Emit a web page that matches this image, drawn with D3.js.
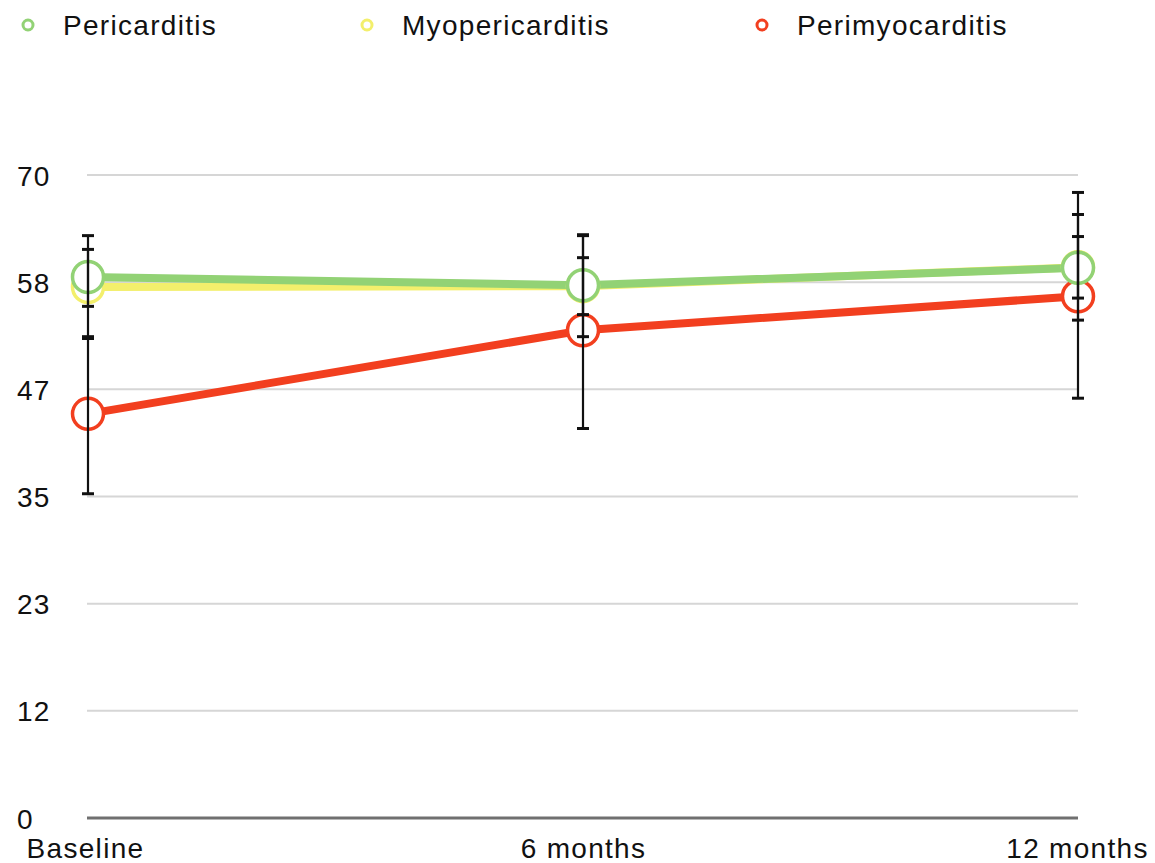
<!DOCTYPE html>
<html>
<head>
<meta charset="utf-8">
<script src="https://cdn.jsdelivr.net/npm/d3@7"></script>
<style>
  html, body { margin: 0; padding: 0; background: #fff; }
  svg { display: block; font-family: "Liberation Sans", Arial, Helvetica, sans-serif; }
</style>
</head>
<body>
<svg id="chart" width="1155" height="863"></svg>
<script>
// ---- data ----
const categories = ["Baseline", "6 months", "12 months"];
const yTicks = [0, 12, 23, 35, 47, 58, 70];
const seriesNames = ["Pericarditis", "Myopericarditis", "Perimyocarditis"];
const seriesColors = ["#92d275", "#f3ef6c", "#f23f1f"];

const pericarditis     = [58.9, 58.0, 59.9];
const myopericarditis  = [57.8, 57.9, 59.95];
const perimyocarditis  = [44.0, 53.1, 56.8];

const pericarditisLow     = [55.7, 54.8, 56.6];
const pericarditisHigh    = [61.9, 61.0, 63.3];
const myopericarditisLow  = [52.2, 52.4, 54.2];
const myopericarditisHigh = [63.4, 63.4, 65.7];
const perimyocarditisLow  = [35.3, 42.4, 45.7];
const perimyocarditisHigh = [52.4, 63.5, 68.1];

const series = [
  { name: seriesNames[0], color: seriesColors[0], values: pericarditis, low: pericarditisLow, high: pericarditisHigh },
  { name: seriesNames[1], color: seriesColors[1], values: myopericarditis, low: myopericarditisLow, high: myopericarditisHigh },
  { name: seriesNames[2], color: seriesColors[2], values: perimyocarditis, low: perimyocarditisLow, high: perimyocarditisHigh }
];

// ---- layout ----
const svg = d3.select("#chart");
const plotLeft = 88, plotRight = 1078, plotTop = 175, plotBottom = 818;
const FONT = 28, LS = 1.3;

const x = d3.scalePoint().domain(categories).range([plotLeft, plotRight]);
const y = d3.scaleLinear().domain([0, 70]).range([plotBottom, plotTop]);

function tickPos(t) { return yTicks.indexOf(t) * 70 / 6; }

// gridlines
svg.append("g").selectAll("line")
  .data(yTicks.filter(t => t !== 0))
  .join("line")
  .attr("x1", plotLeft - 1).attr("x2", plotRight)
  .attr("y1", d => y(tickPos(d))).attr("y2", d => y(tickPos(d)))
  .attr("stroke", "#d6d6d6").attr("stroke-width", 2);

// baseline axis
svg.append("line")
  .attr("x1", plotLeft - 1).attr("x2", plotRight)
  .attr("y1", y(0)).attr("y2", y(0))
  .attr("stroke", "#707070").attr("stroke-width", 3);

// y tick labels
const yAxis = d3.axisLeft(y).tickValues(yTicks.map(tickPos)).tickFormat((d, i) => yTicks[i]).tickSize(0);
const yg = svg.append("g").attr("transform", "translate(17,0)").call(yAxis);
yg.select(".domain").remove();
yg.selectAll("text")
  .attr("x", 0).attr("text-anchor", "start").attr("dy", "0.36em")
  .attr("font-size", FONT).attr("fill", "#111")
  .style("letter-spacing", LS + "px")
  .style("font-family", "'Liberation Sans', Arial, sans-serif");

// x labels
const xAxis = d3.axisBottom(x).tickSize(0);
const xg = svg.append("g").attr("transform", `translate(0,${plotBottom + 17})`).call(xAxis);
xg.select(".domain").remove();
xg.selectAll("text")
  .attr("font-size", FONT).attr("fill", "#111").attr("dy", "0.71em")
  .style("letter-spacing", LS + "px")
  .style("font-family", "'Liberation Sans', Arial, sans-serif");
xg.selectAll(".tick").filter(d => d === "Baseline").select("text").attr("dx", -3);
xg.selectAll(".tick").filter(d => d === "12 months").select("text").attr("dx", -1);

// lines + markers (reverse order so Pericarditis is on top)
const line = d3.line().x((d, i) => x(categories[i])).y(d => y(d));
const drawOrder = series.slice().reverse();
drawOrder.forEach(s => {
  svg.append("path")
    .datum(s.values)
    .attr("d", line)
    .attr("fill", "none")
    .attr("stroke", s.color)
    .attr("stroke-width", 8);
});
drawOrder.forEach(s => {
  svg.append("g").selectAll("circle")
    .data(s.values)
    .join("circle")
    .attr("cx", (d, i) => x(categories[i]))
    .attr("cy", d => y(d))
    .attr("r", 15.5)
    .attr("fill", "#fff")
    .attr("stroke", s.color)
    .attr("stroke-width", 3.5);
});

// error bars
series.forEach(s => {
  const g = svg.append("g");
  categories.forEach((c, i) => {
    const cx = x(c);
    g.append("line")
      .attr("x1", cx).attr("x2", cx)
      .attr("y1", y(s.low[i])).attr("y2", y(s.high[i]))
      .attr("stroke", "#111").attr("stroke-width", 2.2);
    [s.low[i], s.high[i]].forEach(v => {
      g.append("line")
        .attr("x1", cx - 6).attr("x2", cx + 6)
        .attr("y1", y(v)).attr("y2", y(v))
        .attr("stroke", "#111").attr("stroke-width", 3);
    });
  });
});

// legend
const legendX = [28, 367, 762];
const legend = svg.append("g");
series.forEach((s, i) => {
  legend.append("circle")
    .attr("cx", legendX[i]).attr("cy", 25).attr("r", 5)
    .attr("fill", "#fff").attr("stroke", s.color).attr("stroke-width", 3);
  legend.append("text")
    .attr("x", legendX[i] + 35).attr("y", 25).attr("dy", "0.36em")
    .attr("font-size", FONT).attr("fill", "#111")
    .style("letter-spacing", LS + "px")
    .text(s.name);
});
</script>
</body>
</html>
